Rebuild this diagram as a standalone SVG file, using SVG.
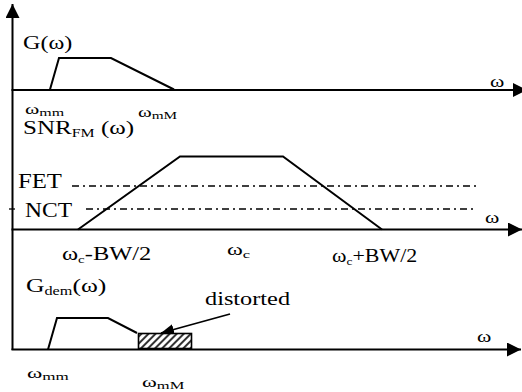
<svg xmlns="http://www.w3.org/2000/svg" width="522" height="392" viewBox="0 0 522 392">
<style>
.ax{stroke:#000;stroke-width:2;fill:none}
.cv{stroke:#000;stroke-width:2;fill:none;stroke-linejoin:miter}
.dd{stroke:#000;stroke-width:1.3;fill:none;stroke-dasharray:7 4 2 4}
</style>
<defs>
<marker id="ah" markerUnits="userSpaceOnUse" markerWidth="14" markerHeight="14" viewBox="0 0 14 14" refX="14" refY="7" orient="auto">
<path d="M0,0 L14,7 L0,14 z" fill="#000"/>
</marker>
<marker id="ah2" markerUnits="userSpaceOnUse" markerWidth="13" markerHeight="11" viewBox="0 0 13 11" refX="13" refY="5.5" orient="auto">
<path d="M0,0 L13,5.5 L0,11 z" fill="#000"/>
</marker>
<pattern id="hatch" patternUnits="userSpaceOnUse" width="5" height="5" patternTransform="rotate(45)">
<rect width="5" height="5" fill="#fff"/>
<line x1="1" y1="0" x2="1" y2="5" stroke="#000" stroke-width="1.6"/>
</pattern>
</defs>

<g id="connectors">
<line class="ax" x1="12.5" y1="350" x2="12.5" y2="4" marker-end="url(#ah)"/>
<line class="ax" x1="11.5" y1="90" x2="527" y2="90" marker-end="url(#ah)"/>
<line class="ax" x1="11.5" y1="229.5" x2="522" y2="229.5" marker-end="url(#ah)"/>
<line class="ax" x1="11.5" y1="349.5" x2="521" y2="349.5" marker-end="url(#ah)"/>
<line x1="9" y1="209" x2="15" y2="209" stroke="#000" stroke-width="1.3"/>
<line class="dd" x1="72" y1="186" x2="480" y2="186"/>
<line class="dd" x1="86" y1="209" x2="473" y2="209"/>
<line x1="230" y1="314" x2="161" y2="333" stroke="#000" stroke-width="1.8" marker-end="url(#ah2)"/>
</g>

<g id="curve-G">
<polyline class="cv" points="50,89.5 59,58 111,58 174,89.5"/>
</g>
<g id="curve-SNR">
<polyline class="cv" points="78,229.5 180,156.5 283,156.5 382,229.5"/>
</g>
<g id="curve-Gdem">
<polyline class="cv" points="48,349.5 57,318 108,318 137,333"/>
<rect x="138.5" y="333.5" width="53" height="15" fill="url(#hatch)" stroke="#000" stroke-width="1.6"/>
</g>

<g id="labels" fill="#000">
<text font-family="Liberation Serif" font-size="19" transform="translate(23,49) scale(1.27,1)">G(ω)</text>
<text font-family="Liberation Serif" font-size="16" transform="translate(490,87) scale(1.36,1)">ω</text>
<text font-family="Liberation Serif" font-size="15" transform="translate(25,114) scale(1.45,1)">ω<tspan font-size="11" dy="2">mm</tspan></text>
<text font-family="Liberation Serif" font-size="15" transform="translate(138,117) scale(1.39,1)">ω<tspan font-size="11" dy="2">mM</tspan></text>
<text font-family="Liberation Serif" font-size="19" transform="translate(23,134) scale(1.32,1)">SNR<tspan font-size="12" dy="3">FM</tspan><tspan dy="-3"> (ω)</tspan></text>
<text font-family="Liberation Serif" font-size="22" transform="translate(18,188) scale(1.125,1)">FET</text>
<text font-family="Liberation Serif" font-size="22" transform="translate(25,217) scale(1.07,1)">NCT</text>
<text font-family="Liberation Serif" font-size="16" transform="translate(485,223) scale(1.36,1)">ω</text>
<text font-family="Liberation Serif" font-size="18" transform="translate(62,260) scale(1.36,1)">ω<tspan font-size="11" dy="3">c</tspan><tspan dy="-3">-BW/2</tspan></text>
<text font-family="Liberation Serif" font-size="16" transform="translate(227,255) scale(1.5,1)">ω<tspan font-size="11" dy="3">c</tspan></text>
<text font-family="Liberation Serif" font-size="18" transform="translate(332,262) scale(1.22,1)">ω<tspan font-size="11" dy="3">c</tspan><tspan dy="-3">+BW/2</tspan></text>
<text font-family="Liberation Serif" font-size="19" transform="translate(26,292) scale(1.35,1)">G<tspan font-size="12" dy="3">dem</tspan><tspan dy="-3">(ω)</tspan></text>
<text font-family="Liberation Serif" font-size="19" transform="translate(205,305) scale(1.28,1)">distorted</text>
<text font-family="Liberation Serif" font-size="16" transform="translate(477,342) scale(1.36,1)">ω</text>
<text font-family="Liberation Serif" font-size="15" transform="translate(27,378) scale(1.55,1)">ω<tspan font-size="11" dy="2">mm</tspan></text>
<text font-family="Liberation Serif" font-size="15" transform="translate(142,387) scale(1.5,1)">ω<tspan font-size="11" dy="2">mM</tspan></text>
</g>
</svg>
